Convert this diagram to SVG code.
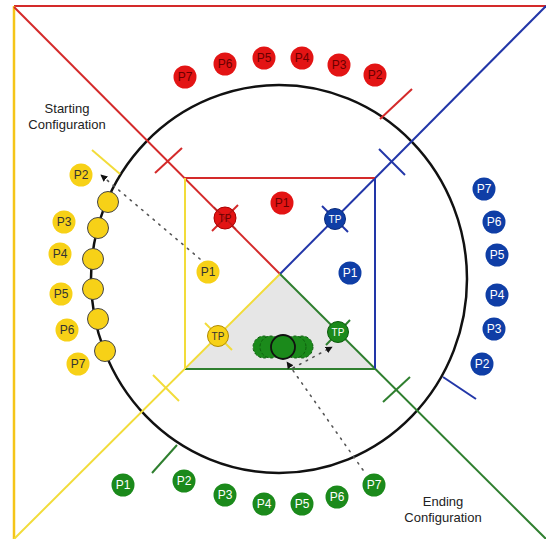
<svg xmlns="http://www.w3.org/2000/svg" width="546" height="539" viewBox="0 0 546 539">
<defs>
<marker id="ah" viewBox="0 0 10 10" refX="9" refY="5" markerWidth="7" markerHeight="7" orient="auto" markerUnits="userSpaceOnUse">
<path d="M0,0 L10,5 L0,10 z" fill="#111"/>
</marker>
<style>
.r{stroke:#d42a2a;stroke-width:2;fill:none}
.b{stroke:#2236a8;stroke-width:2;fill:none}
.g{stroke:#2f7f2f;stroke-width:2;fill:none}
.y{stroke:#f2dc3a;stroke-width:2;fill:none}
.yo{stroke:#f5c518;stroke-width:2.5;fill:none}
.dot{stroke:#555;stroke-width:1.6;stroke-dasharray:1.5 6;fill:none;stroke-linecap:round}
.pr{fill:#e31414}
.pb{fill:#0f3ea6}
.pg{fill:#1b8a1b}
.py{fill:#f7d117}
.t{font-family:"Liberation Sans",Arial,sans-serif;font-size:12px;text-anchor:middle;dominant-baseline:central}
.tp{font-size:10px}
.tw{fill:#fff}
.td{fill:#333}
.tr{fill:#6a0000}
.lab{font-family:"Liberation Sans",Arial,sans-serif;font-size:13px;fill:#222;text-anchor:middle}
</style>
</defs>
<rect width="546" height="539" fill="#fff"/>
<polygon points="280,274 185,369 375,369" fill="#e6e6e6"/>
<line class="r" x1="14" y1="6" x2="546" y2="6"/>
<line class="yo" x1="14" y1="6" x2="14" y2="539"/>
<ellipse cx="279" cy="279" rx="188" ry="194" fill="none" stroke="#111" stroke-width="2.5"/>
<g id="lines">
<line class="r" x1="14" y1="7" x2="280" y2="274"/>
<line class="b" x1="546" y1="6" x2="280" y2="274"/>
<line class="y" x1="14" y1="539" x2="280" y2="274"/>
<line class="g" x1="546" y1="539" x2="280" y2="274"/>
<line class="r" x1="185" y1="178" x2="375" y2="178"/>
<line class="b" x1="375" y1="178" x2="375" y2="369"/>
<line class="g" x1="185" y1="369" x2="375" y2="369"/>
<line class="y" x1="185" y1="178" x2="185" y2="369"/>
<line class="r" x1="155" y1="173" x2="182" y2="148"/>
<line class="b" x1="379" y1="149" x2="405" y2="175"/>
<line class="y" x1="153" y1="375" x2="179" y2="401"/>
<line class="g" x1="383" y1="402" x2="410" y2="377"/>
<line class="r" x1="380" y1="119" x2="412" y2="89"/>
<line class="g" x1="152" y1="473" x2="177" y2="445"/>
<line class="b" x1="443" y1="377" x2="476" y2="399"/>
<line class="y" x1="92" y1="150" x2="120" y2="174"/>
<line class="r" x1="212" y1="231" x2="238" y2="205"/>
<line class="b" x1="322" y1="206" x2="348" y2="232"/>
<line class="y" x1="205" y1="323" x2="232" y2="350"/>
<line class="g" x1="326" y1="345" x2="350" y2="320"/>
</g>
<g id="connectors">
<line class="dot" x1="363" y1="470" x2="287" y2="362" marker-end="url(#ah)"/>
<line class="dot" x1="293" y1="368" x2="332" y2="347" marker-end="url(#ah)"/>
<line class="dot" x1="200" y1="259" x2="101" y2="175" marker-end="url(#ah)"/>
</g>
<g id="red">
<circle class="pr" cx="185" cy="77" r="11.5"/><text class="t tr" x="185" y="77">P7</text>
<circle class="pr" cx="225" cy="64" r="11.5"/><text class="t tr" x="225" y="64">P6</text>
<circle class="pr" cx="264" cy="58" r="11.5"/><text class="t tr" x="264" y="58">P5</text>
<circle class="pr" cx="302" cy="58" r="11.5"/><text class="t tr" x="302" y="58">P4</text>
<circle class="pr" cx="339" cy="65" r="11.5"/><text class="t tr" x="339" y="65">P3</text>
<circle class="pr" cx="375" cy="75" r="11.5"/><text class="t tr" x="375" y="75">P2</text>
<circle class="pr" cx="282" cy="203" r="11.5"/><text class="t tr" x="282" y="203">P1</text>
<circle class="pr" cx="225" cy="218" r="11" stroke="#a00" stroke-width="1"/>
<g stroke="#8a1010" stroke-width="1.5" opacity="0.45">
<line x1="214" y1="207" x2="236" y2="229"/>
<line x1="217" y1="226" x2="233" y2="210"/>
</g>
<text class="t tr tp" x="225" y="218">TP</text>
</g>
<g id="blue">
<circle class="pb" cx="484" cy="189" r="11.5"/><text class="t tw" x="484" y="189">P7</text>
<circle class="pb" cx="494" cy="222" r="11.5"/><text class="t tw" x="494" y="222">P6</text>
<circle class="pb" cx="497" cy="255" r="11.5"/><text class="t tw" x="497" y="255">P5</text>
<circle class="pb" cx="497" cy="295" r="11.5"/><text class="t tw" x="497" y="295">P4</text>
<circle class="pb" cx="494" cy="329" r="11.5"/><text class="t tw" x="494" y="329">P3</text>
<circle class="pb" cx="482" cy="364" r="11.5"/><text class="t tw" x="482" y="364">P2</text>
<circle class="pb" cx="350" cy="273" r="11.5"/><text class="t tw" x="350" y="273">P1</text>
<circle class="pb" cx="335" cy="219" r="10.5" stroke="#0a2a7a" stroke-width="1"/><text class="t tw tp" x="335" y="219">TP</text>
</g>
<g id="yellow">
<circle class="py" cx="81" cy="175" r="11.5"/><text class="t td" x="81" y="175">P2</text>
<circle class="py" cx="64" cy="222" r="11.5"/><text class="t td" x="64" y="222">P3</text>
<circle class="py" cx="60" cy="254" r="11.5"/><text class="t td" x="60" y="254">P4</text>
<circle class="py" cx="61" cy="294" r="11.5"/><text class="t td" x="61" y="294">P5</text>
<circle class="py" cx="67" cy="330" r="11.5"/><text class="t td" x="67" y="330">P6</text>
<circle class="py" cx="78" cy="364" r="11.5"/><text class="t td" x="78" y="364">P7</text>
<circle class="py" cx="208" cy="272" r="11.5"/><text class="t td" x="208" y="272">P1</text>
<circle class="py" cx="218" cy="336" r="10.5" stroke="#b08a00" stroke-width="1"/><text class="t td tp" x="218" y="336">TP</text>
<g stroke="#444" stroke-width="1">
<circle class="py" cx="108" cy="202" r="10.5"/>
<circle class="py" cx="98" cy="228" r="10.5"/>
<circle class="py" cx="93" cy="259" r="10.5"/>
<circle class="py" cx="93" cy="289" r="10.5"/>
<circle class="py" cx="98" cy="319" r="10.5"/>
<circle class="py" cx="105" cy="351" r="10.5"/>
</g>
</g>
<g id="green">
<circle class="pg" cx="123" cy="485" r="11.5"/><text class="t tw" x="123" y="485">P1</text>
<circle class="pg" cx="184" cy="481" r="11.5"/><text class="t tw" x="184" y="481">P2</text>
<circle class="pg" cx="225" cy="495" r="11.5"/><text class="t tw" x="225" y="495">P3</text>
<circle class="pg" cx="264" cy="504" r="11.5"/><text class="t tw" x="264" y="504">P4</text>
<circle class="pg" cx="302" cy="504" r="11.5"/><text class="t tw" x="302" y="504">P5</text>
<circle class="pg" cx="337" cy="497" r="11.5"/><text class="t tw" x="337" y="497">P6</text>
<circle class="pg" cx="374" cy="485" r="11.5"/><text class="t tw" x="374" y="485">P7</text>
<circle class="pg" cx="338" cy="332" r="10.5" stroke="#0d5a0d" stroke-width="1"/><text class="t tw tp" x="338" y="332">TP</text>
<g stroke="#0f5f0f" stroke-width="1" stroke-dasharray="3 2">
<circle class="pg" cx="264" cy="347" r="11"/>
<circle class="pg" cx="271" cy="347" r="11"/>
<circle class="pg" cx="302" cy="347" r="11"/>
<circle class="pg" cx="295" cy="347" r="11"/>
</g>
<circle class="pg" cx="283" cy="347" r="12" stroke="#111" stroke-width="1.8"/>
</g>
<g id="labels">
<text class="lab" x="67" y="113">Starting</text>
<text class="lab" x="67" y="129">Configuration</text>
<text class="lab" x="443" y="506">Ending</text>
<text class="lab" x="443" y="522">Configuration</text>
</g>
</svg>
